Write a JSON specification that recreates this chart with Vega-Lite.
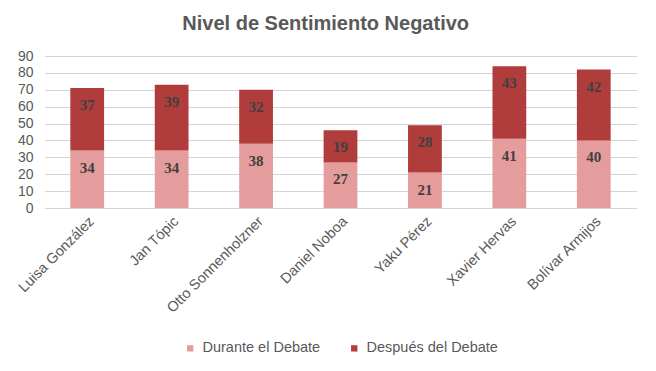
{
  "$schema": "https://vega.github.io/schema/vega-lite/v6.json",
  "width": 591,
  "height": 152,
  "autosize": {"type": "none"},
  "padding": {"left": 45, "top": 56, "right": 20, "bottom": 163},
  "background": "white",
  "title": {
    "text": "Nivel de Sentimiento Negativo",
    "font": "Liberation Sans",
    "fontSize": 20,
    "fontWeight": "bold",
    "color": "#595959",
    "offset": 15,
    "frame": "bounds"
  },
  "data": {
    "values": [
      {"candidato": "Luisa González", "serie": "Durante el Debate", "valor": 34},
      {"candidato": "Luisa González", "serie": "Después del Debate", "valor": 37},
      {"candidato": "Jan Tópic", "serie": "Durante el Debate", "valor": 34},
      {"candidato": "Jan Tópic", "serie": "Después del Debate", "valor": 39},
      {"candidato": "Otto Sonnenholzner", "serie": "Durante el Debate", "valor": 38},
      {"candidato": "Otto Sonnenholzner", "serie": "Después del Debate", "valor": 32},
      {"candidato": "Daniel Noboa", "serie": "Durante el Debate", "valor": 27},
      {"candidato": "Daniel Noboa", "serie": "Después del Debate", "valor": 19},
      {"candidato": "Yaku Pérez", "serie": "Durante el Debate", "valor": 21},
      {"candidato": "Yaku Pérez", "serie": "Después del Debate", "valor": 28},
      {"candidato": "Xavier Hervas", "serie": "Durante el Debate", "valor": 41},
      {"candidato": "Xavier Hervas", "serie": "Después del Debate", "valor": 43},
      {"candidato": "Bolívar Armijos", "serie": "Durante el Debate", "valor": 40},
      {"candidato": "Bolívar Armijos", "serie": "Después del Debate", "valor": 42}
    ]
  },
  "transform": [
    {"stack": "valor", "groupby": ["candidato"], "sort": [{"field": "serie", "order": "descending"}], "as": ["v0", "v1"]}
  ],
  "encoding": {
    "x": {
      "field": "candidato",
      "type": "nominal",
      "sort": null,
      "scale": {"paddingInner": 0.6, "paddingOuter": 0.3},
      "axis": {
        "title": null,
        "labelAngle": -45,
        "labelFont": "Liberation Sans",
        "labelFontSize": 14.5,
        "labelColor": "#595959",
        "labelPadding": 6,
        "ticks": false,
        "domain": false,
        "grid": false
      }
    },
    "y": {
      "field": "v1",
      "type": "quantitative",
      "scale": {"domain": [0, 90], "nice": false},
      "axis": {
        "title": null,
        "values": [0, 10, 20, 30, 40, 50, 60, 70, 80, 90],
        "labelOverlap": false,
        "labelFont": "Liberation Sans",
        "labelFontSize": 14,
        "labelColor": "#595959",
        "labelPadding": 12,
        "ticks": false,
        "domain": false,
        "grid": true,
        "gridColor": "#a8a8a8",
        "gridDash": [1, 1],
        "gridWidth": 1
      }
    }
  },
  "layer": [
    {
      "mark": {"type": "bar"},
      "encoding": {
        "y2": {"field": "v0"},
        "color": {
          "field": "serie",
          "type": "nominal",
          "scale": {
            "domain": ["Durante el Debate", "Después del Debate"],
            "range": ["#E59C9C", "#B03C3C"]
          },
          "legend": {
            "title": null,
            "orient": "bottom",
            "direction": "horizontal",
            "symbolType": "square",
            "symbolSize": 40,
            "symbolStrokeWidth": 0,
            "labelFont": "Liberation Sans",
            "labelFontSize": 14.5,
            "labelColor": "#595959",
            "labelOffset": 5,
            "columnPadding": 26,
            "offset": 26
          }
        }
      }
    },
    {
      "mark": {
        "type": "text",
        "baseline": "middle",
        "align": "center",
        "dy": 17,
        "font": "Liberation Serif",
        "fontWeight": "bold",
        "fontSize": 15,
        "color": "#404040"
      },
      "encoding": {
        "text": {"field": "valor", "type": "quantitative"}
      }
    }
  ],
  "config": {
    "view": {"stroke": null},
    "legend": {"layout": {"bottom": {"anchor": "middle"}}}
  }
}
